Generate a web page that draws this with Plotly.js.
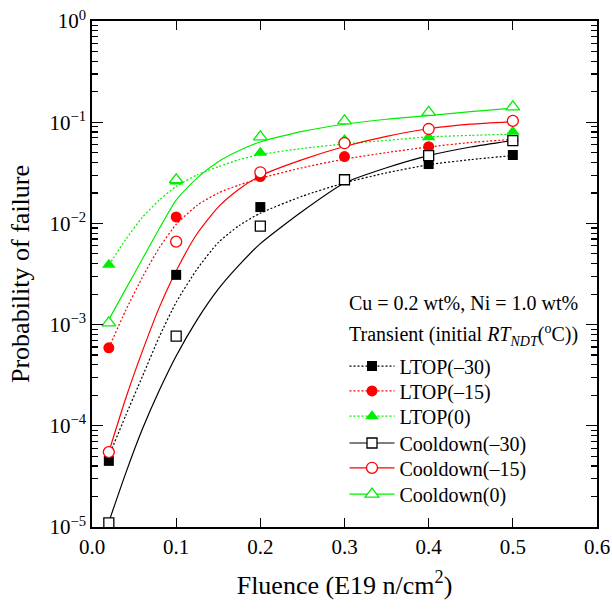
<!DOCTYPE html>
<html>
<head>
<meta charset="utf-8">
<script src="https://cdn.plot.ly/plotly-3.0.1.min.js"></script>
<style>
  html, body { margin: 0; padding: 0; background: #fff; }
  #chart { width: 612px; height: 612px; }
</style>
</head>
<body>
<div id="chart"></div>
<script>
// Computed fluences (E19 n/cm^2) and probability of failure per transient
const fluence = [0.02, 0.1, 0.2, 0.3, 0.4, 0.5];
const ltopM30 = [4.5e-5, 3.1e-3, 0.0145, 0.027, 0.0386, 0.0474];
const ltopM15 = [5.9e-4, 0.0116, 0.029, 0.0457, 0.0573, 0.066];
const ltop0 = [3.9e-3, 0.026, 0.050, 0.0667, 0.071, 0.0805];
const coolM30 = [1.1e-5, 7.7e-4, 0.0094, 0.027, 0.0467, 0.0657];
const coolM15 = [5.5e-5, 0.0066, 0.032, 0.062, 0.0857, 0.103];
const cool0 = [1.04e-3, 0.027, 0.0716, 0.103, 0.125, 0.142];

// Fitted trend curves for each transient
const fitFluence = [0.02, 0.04, 0.06, 0.08, 0.1, 0.125, 0.15, 0.175, 0.2, 0.25, 0.3, 0.35, 0.4, 0.45, 0.5];
const fitLtopM30 = [5.01e-5, 1.26e-4, 3.09e-4, 7.59e-4, 1.66e-3, 3.55e-3, 6.46e-3, 9.55e-3, 0.0126, 0.0186, 0.0251, 0.0316, 0.0380, 0.0427, 0.0468];
const fitLtopM15 = [5.89e-4, 1.38e-3, 2.95e-3, 5.75e-3, 9.77e-3, 0.0151, 0.0200, 0.0240, 0.0279, 0.0355, 0.0432, 0.0501, 0.0569, 0.0631, 0.0676];
const fitLtop0 = [3.89e-3, 6.92e-3, 0.0115, 0.0170, 0.0232, 0.0302, 0.0363, 0.0427, 0.0479, 0.0550, 0.0610, 0.0661, 0.0716, 0.0741, 0.0764];
const fitCoolM30 = [1.12e-5, 3.39e-5, 9.33e-5, 2.24e-4, 4.90e-4, 1.12e-3, 2.24e-3, 3.89e-3, 6.31e-3, 0.0132, 0.0251, 0.0355, 0.0468, 0.0569, 0.0661];
const fitCoolM15 = [5.50e-5, 1.86e-4, 5.50e-4, 1.48e-3, 3.39e-3, 7.94e-3, 0.0145, 0.0219, 0.0295, 0.0427, 0.0575, 0.0724, 0.0861, 0.0955, 0.101];
const fitCool0 = [1.12e-3, 2.24e-3, 4.47e-3, 8.91e-3, 0.0170, 0.0282, 0.0407, 0.0525, 0.0638, 0.0813, 0.0955, 0.107, 0.116, 0.127, 0.138];

const seriesNames = ['LTOP(–30)', 'LTOP(–15)', 'LTOP(0)', 'Cooldown(–30)', 'Cooldown(–15)', 'Cooldown(0)'];
const xTickVals = [0, 0.1, 0.2, 0.3, 0.4, 0.5, 0.6];
const yTickVals = [1e-5, 1e-4, 1e-3, 1e-2, 1e-1, 1];
const yTickText = ['10<sup>−5</sup>', '10<sup>−4</sup>', '10<sup>−3</sup>', '10<sup>−2</sup>', '10<sup>−1</sup>', '10<sup>0</sup>'];
// vertical placement of each legend row (paper fraction)
const legendRows = [0.318, 0.269, 0.219, 0.166, 0.117, 0.065];

const BLACK = '#000000', RED = '#ff0000', GREEN = '#00ee00';
const DOT = '2px,2px';

const styles = [
  { pts: ltopM30, fit: fitLtopM30, color: BLACK, dash: DOT, symbol: 'square', size: 10 },
  { pts: ltopM15, fit: fitLtopM15, color: RED, dash: DOT, symbol: 'circle', size: 11 },
  { pts: ltop0, fit: fitLtop0, color: GREEN, dash: DOT, symbol: 'triangle-up', size: 12 },
  { pts: coolM30, fit: fitCoolM30, color: BLACK, dash: 'solid', symbol: 'square-open', size: 10 },
  { pts: coolM15, fit: fitCoolM15, color: RED, dash: 'solid', symbol: 'circle-open', size: 11 },
  { pts: cool0, fit: fitCool0, color: GREEN, dash: 'solid', symbol: 'triangle-up-open', size: 12 }
];

function markerStyle(s) {
  const open = s.symbol.endsWith('-open');
  return open
    ? { symbol: s.symbol.replace('-open', ''), size: s.size, color: '#ffffff', line: { color: s.color, width: 1.3 } }
    : { symbol: s.symbol, size: s.size, color: s.color, line: { width: 0 } };
}

const traces = [];
// trend curves
styles.forEach((s) => {
  traces.push({
    x: fitFluence, y: s.fit, type: 'scatter', mode: 'lines',
    line: { color: s.color, width: 1.2, dash: s.dash, shape: 'spline', smoothing: 0.6 },
    showlegend: false, hoverinfo: 'skip'
  });
});
// data markers on top (open symbols keep a white fill)
styles.forEach((s) => {
  traces.push({
    x: fluence, y: s.pts, type: 'scatter', mode: 'markers',
    marker: markerStyle(s), showlegend: false
  });
});
// one legend per row so the rows can sit at their own spacing
styles.forEach((s, i) => {
  traces.push({
    x: [null], y: [null], type: 'scatter', mode: 'lines+markers', name: seriesNames[i],
    line: { color: s.color, width: 1.2, dash: s.dash },
    marker: markerStyle(s),
    legend: i === 0 ? 'legend' : 'legend' + (i + 1)
  });
});

const serif = 'Liberation Serif';

const layout = {
  width: 612, height: 612,
  margin: { l: 92, r: 15, t: 21, b: 85 },
  paper_bgcolor: '#ffffff', plot_bgcolor: '#ffffff',
  font: { family: serif, color: '#000', size: 20 },
  showlegend: true,
  xaxis: {
    range: [0, 0.6], tickvals: xTickVals, tickformat: '.1f',
    ticks: 'inside', ticklen: 9, tickwidth: 1.3, tickcolor: '#000',
    showline: true, linewidth: 1.6, linecolor: '#000', mirror: 'ticks',
    showgrid: false, zeroline: false,
    tickfont: { family: serif, size: 21 },
    title: { text: 'Fluence (E19 n/cm<sup>2</sup>)', font: { family: serif, size: 26 }, standoff: 18 }
  },
  yaxis: {
    type: 'log', range: [-5, 0], tickvals: yTickVals, ticktext: yTickText,
    ticks: 'inside', ticklen: 11, tickwidth: 1.3, tickcolor: '#000',
    minor: { tickmode: 'array', tickvals: (() => {
      const v = [];
      for (let e = -5; e < 0; e++) for (let m = 2; m <= 9; m++) v.push(m * Math.pow(10, e));
      return v;
    })(), ticks: 'inside', ticklen: 6, tickwidth: 1.2, tickcolor: '#000', showgrid: false },
    showline: true, linewidth: 1.6, linecolor: '#000', mirror: 'ticks',
    showgrid: false, zeroline: false,
    tickfont: { family: serif, size: 21 },
    title: { text: 'Probability of failure', font: { family: serif, size: 26 }, standoff: 12 }
  },
  annotations: [
    { xref: 'paper', yref: 'paper', x: 0.505, y: 0.443, xanchor: 'left', yanchor: 'middle',
      text: 'Cu = 0.2 wt%, Ni = 1.0 wt%', showarrow: false, font: { family: serif, size: 20 } },
    { xref: 'paper', yref: 'paper', x: 0.505, y: 0.38, xanchor: 'left', yanchor: 'middle',
      text: 'Transient (initial <i>RT</i><sub><i>NDT</i></sub>(<sup>o</sup>C))', showarrow: false, font: { family: serif, size: 20 } }
  ]
};

legendRows.forEach((y, i) => {
  layout[i === 0 ? 'legend' : 'legend' + (i + 1)] = {
    x: 0.50, y: y, xanchor: 'left', yanchor: 'middle',
    bgcolor: 'rgba(0,0,0,0)', borderwidth: 0,
    font: { family: serif, size: 20, color: '#000' },
    itemwidth: 45
  };
});

Plotly.newPlot('chart', traces, layout, { displayModeBar: false, staticPlot: true });
</script>
</body>
</html>
